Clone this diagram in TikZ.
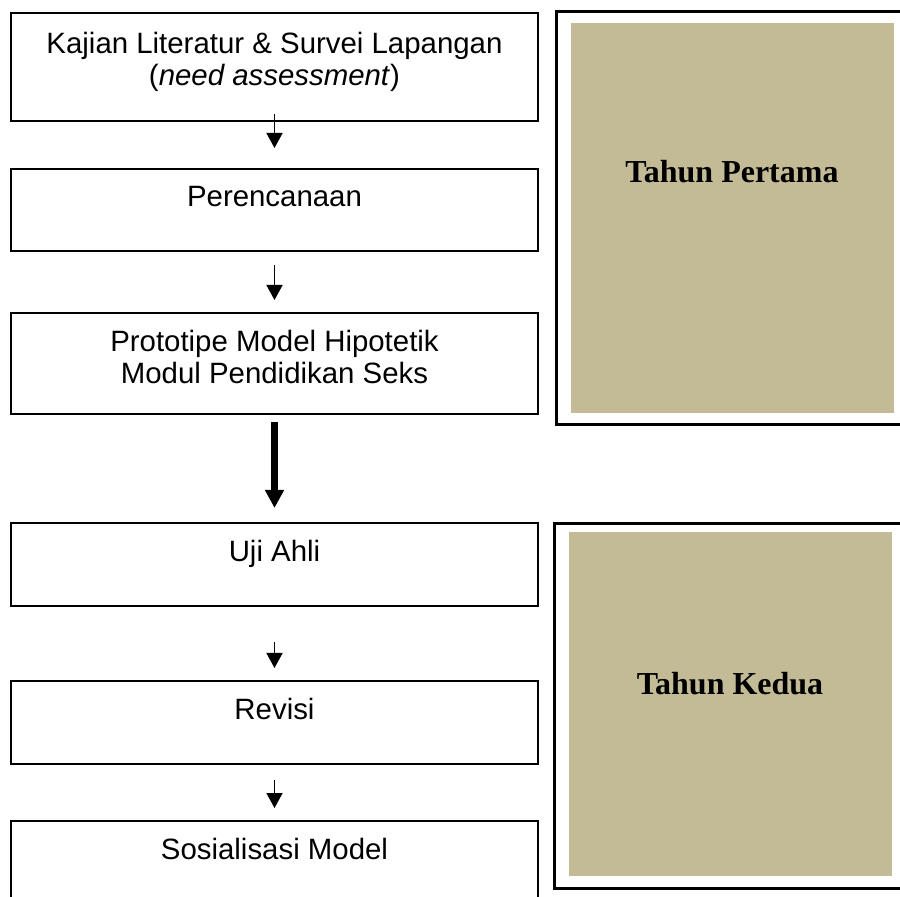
\documentclass[tikz,border=0pt]{standalone}
\usepackage{fontspec}
\setmainfont{Liberation Sans}
\newfontfamily\timesfont{Liberation Serif}
\usetikzlibrary{positioning, arrows.meta}
\definecolor{khaki}{RGB}{195,186,150}

\begin{document}
\begin{tikzpicture}[x=0.5pt, y=-0.5pt,
    box/.style={draw, line width=1pt, anchor=north west, minimum width=263.5pt, inner sep=0pt},
    txt/.style={anchor=north, align=center, inner sep=0pt, font=\fontsize{14.7}{16}\selectfont},
    flow/.style={-{Triangle[length=7.5pt, width=8pt]}, line width=0.8pt},
    bigflow/.style={-{Triangle[length=9pt, width=9pt]}, line width=3.5pt},
    frame/.style={draw, line width=1.3pt, anchor=north west, inner sep=0pt},
    panel/.style={fill=khaki, anchor=north west, inner sep=0pt},
    year/.style={inner sep=0pt, font=\timesfont\bfseries\fontsize{16}{19}\selectfont}]

    \clip (0,0) rectangle (900,897);

    % left column
    \node[box, minimum height=54pt] (kajian) at (10,12) {};
    \node[box, minimum height=41pt] (rencana) at (10,168) {};
    \node[box, minimum height=50.5pt] (proto) at (10,312) {};
    \node[box, minimum height=41.5pt] (uji) at (10,522) {};
    \node[box, minimum height=41.5pt] (revisi) at (10,680) {};
    \node[box, minimum height=45pt] (sosial) at (10,820) {};

    \node[txt] (kajian_t) at ([yshift=-10pt]kajian.north) {Kajian Literatur \& Survei Lapangan\\(\textit{need assessment})};
    \node[txt] (rencana_t) at ([yshift=-9pt]rencana.north) {Perencanaan};
    \node[txt] (proto_t) at ([yshift=-9pt]proto.north) {Prototipe Model Hipotetik\\Modul Pendidikan Seks};
    \node[txt] (uji_t) at ([yshift=-9pt]uji.north) {Uji Ahli};
    \node[txt] (revisi_t) at ([yshift=-9pt]revisi.north) {Revisi};
    \node[txt] (sosial_t) at ([yshift=-9pt]sosial.north) {Sosialisasi Model};

    % right column
    \node[frame, minimum width=177.5pt, minimum height=206.5pt] (frame_1) at (555,10) {};
    \node[panel, minimum width=161.5pt, minimum height=195pt] (panel_1) at (571,23) {};
    \node[frame, minimum width=178.5pt, minimum height=182.5pt] (frame_2) at (553,522) {};
    \node[panel, minimum width=161.5pt, minimum height=172pt] (panel_2) at (569,532) {};
    \node[year] (tahun_1) at (732,172) {Tahun Pertama};
    \node[year] (tahun_2) at (730,684) {Tahun Kedua};

        \path[flow]
        (kajian.south)  edge[shorten <=-4pt, shorten >=10pt] (rencana.north)
        (rencana.south) edge[shorten <=6.5pt, shorten >=6pt] (proto.north)
        (uji.south)     edge[shorten <=17.5pt, shorten >=6pt] (revisi.north)
        (revisi.south)  edge[shorten <=7.5pt, shorten >=6pt] (sosial.north);
        \path[bigflow]
        (proto.south)   edge[shorten <=3.5pt, shorten >=7pt] (uji.north);
\end{tikzpicture}
\end{document}
